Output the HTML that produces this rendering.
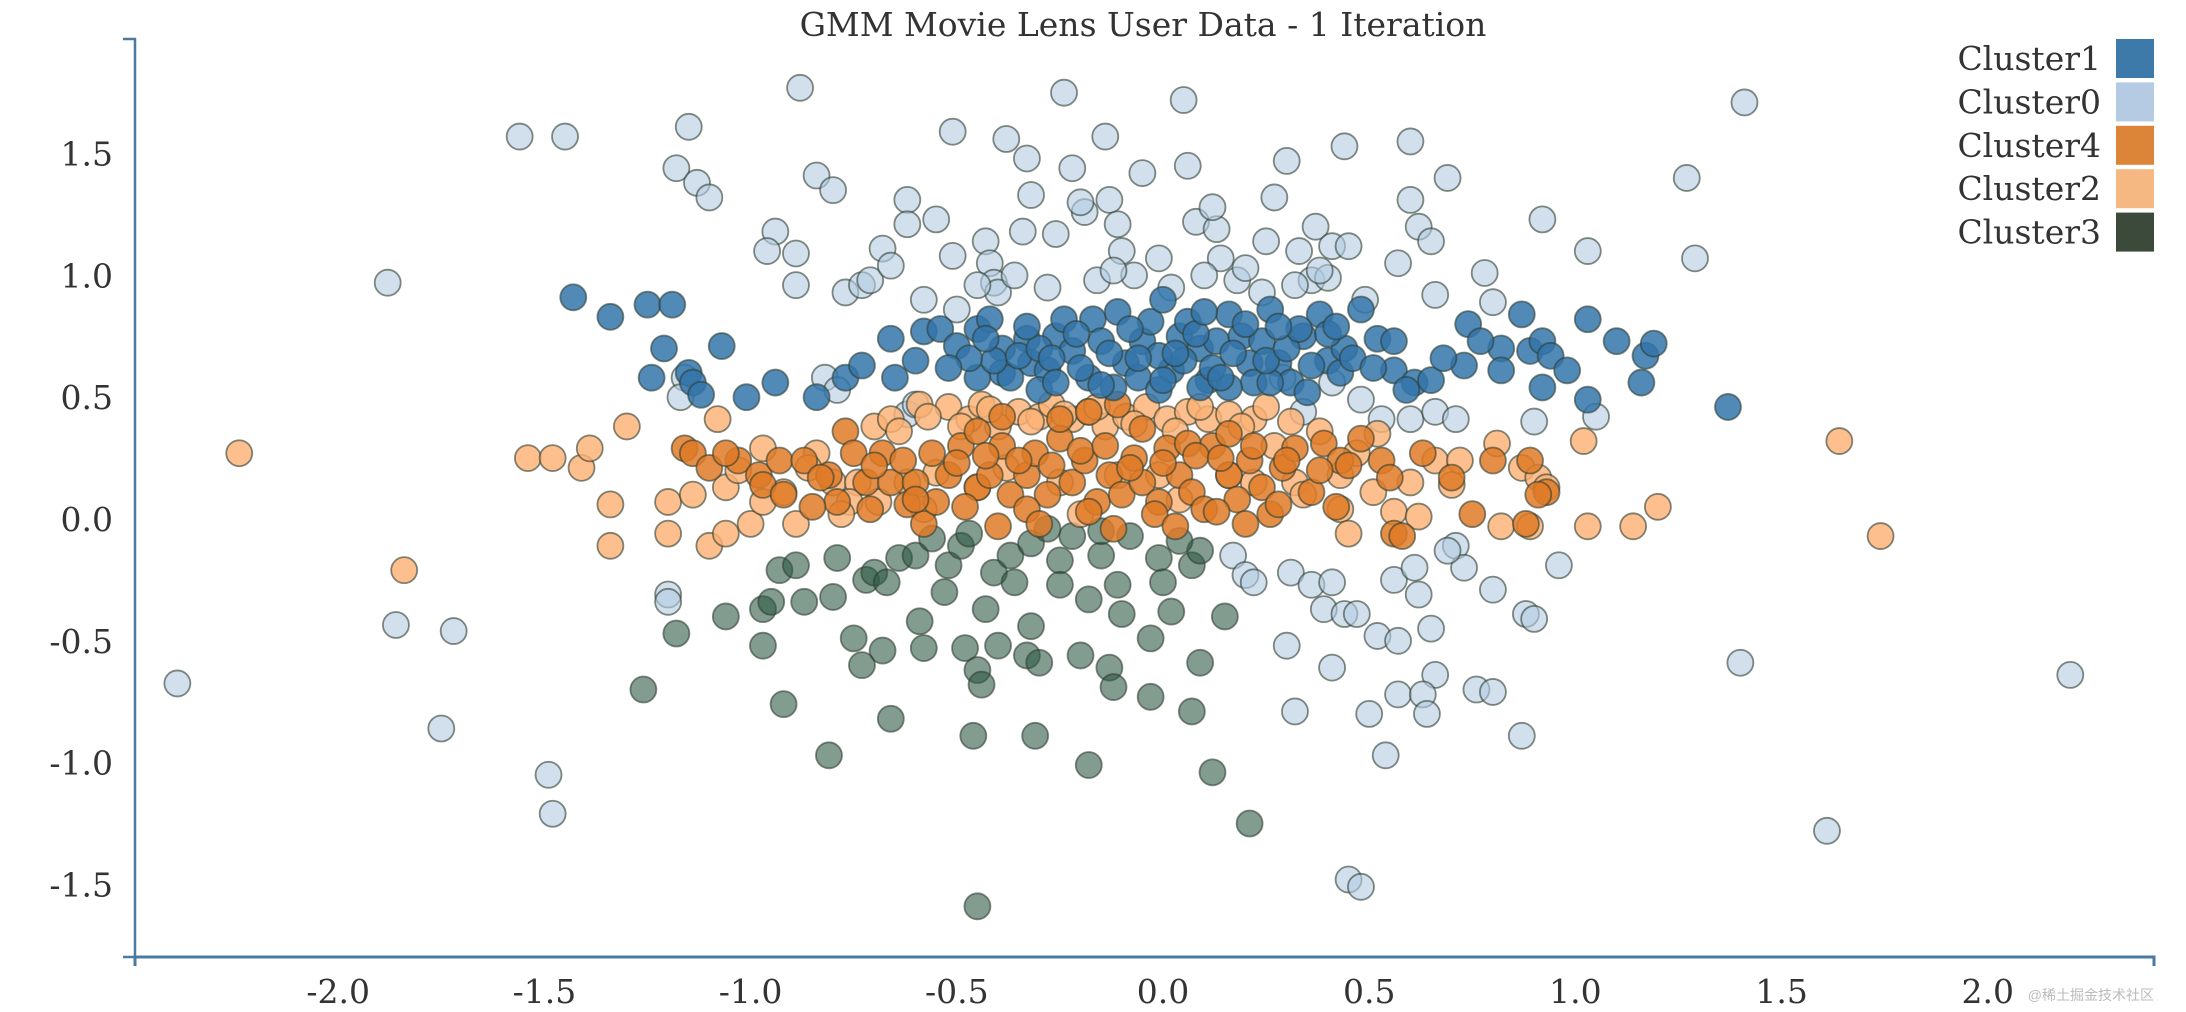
<!DOCTYPE html>
<html><head><meta charset="utf-8">
<style>
html,body{margin:0;padding:0;background:#fff;}
svg{display:block;}
text{font-family:"DejaVu Serif","Liberation Serif",serif;fill:#333;}
</style></head>
<body>
<svg id="chart" width="2186" height="1012">
<text x="1143" y="36" text-anchor="middle" font-size="33">GMM Movie Lens User Data - 1 Iteration</text>
<g id="points"></g>
<path d="M123,39 H135 V957 H123" fill="none" stroke="#4a7aa0" stroke-width="2.5"/>
<path d="M135,966 V957 H2154 V966" fill="none" stroke="#4a7aa0" stroke-width="3"/>
<g id="yticks"></g>
<g id="xticks"></g>
<g id="legend"></g>
<text x="2154" y="1000" text-anchor="end" font-size="14" style="font-family:'Liberation Sans','Noto Sans CJK SC',sans-serif;fill:#bbb">@稀土掘金技术社区</text>
</svg>
<script>
const xTicks=[-2.0,-1.5,-1.0,-0.5,0.0,0.5,1.0,1.5,2.0];
const yTicks=[-1.5,-1.0,-0.5,0.0,0.5,1.0,1.5];
const clusterNames=["Cluster1","Cluster0","Cluster4","Cluster2","Cluster3"];
const cluster0X=[-2.39,-1.88,-1.86,-1.75,-1.72,-1.56,-1.49,-1.48,-1.45,-1.20,-1.20,-1.15,-1.18,-1.13,-1.10,-0.94,-0.96,-0.89,-0.89,-0.88,-0.84,-0.80,-0.77,-0.73,-0.71,-0.68,-0.66,-0.62,-0.62,-0.55,-0.51,-0.51,-0.58,-0.50,-0.38,-0.33,-0.43,-0.42,-0.41,-0.34,-0.32,-0.24,-0.22,-0.26,-0.19,-0.14,-0.13,-0.11,-0.10,-0.05,-0.07,-0.01,0.05,0.06,0.08,0.13,0.14,0.18,0.25,0.27,0.30,0.33,0.36,0.37,0.41,0.44,0.45,0.49,0.57,0.60,0.60,0.62,0.65,0.66,0.69,0.78,0.80,0.92,1.03,1.27,1.29,1.41,1.40,1.61,2.20,0.45,0.48,0.54,0.57,0.50,0.41,0.32,0.30,0.31,0.36,0.39,0.44,0.41,0.47,0.52,0.57,0.56,0.61,0.62,0.65,0.66,0.63,0.64,0.71,0.73,0.76,0.80,0.80,0.87,0.88,0.90,0.96,0.69,0.17,0.20,0.22,0.48,0.53,0.60,0.66,0.71,0.90,1.05,0.29,0.34,0.41,-1.16,-1.17,-0.82,-0.79,-0.62,-0.60,-0.40,-0.36,-0.28,-0.16,-0.12,0.02,0.10,0.20,0.24,0.32,0.40,-0.45,-0.20,0.12,0.38];
const cluster0Y=[-0.675,0.97,-0.435,-0.86,-0.46,1.57,-1.05,-1.21,1.57,-0.31,-0.34,1.61,1.44,1.38,1.32,1.18,1.10,1.09,0.96,1.77,1.41,1.35,0.93,0.96,0.98,1.11,1.04,1.31,1.21,1.23,1.59,1.08,0.90,0.86,1.56,1.48,1.14,1.05,0.97,1.18,1.33,1.75,1.44,1.17,1.26,1.57,1.31,1.21,1.10,1.42,1.00,1.07,1.72,1.45,1.22,1.19,1.07,0.98,1.14,1.32,1.47,1.10,0.98,1.20,1.12,1.53,1.12,0.90,1.05,1.55,1.31,1.20,1.14,0.92,1.40,1.01,0.89,1.23,1.10,1.40,1.07,1.71,-0.59,-1.28,-0.64,-1.48,-1.51,-0.97,-0.72,-0.80,-0.61,-0.79,-0.52,-0.22,-0.27,-0.37,-0.39,-0.26,-0.39,-0.48,-0.50,-0.25,-0.20,-0.31,-0.45,-0.64,-0.72,-0.80,-0.11,-0.20,-0.70,-0.29,-0.71,-0.89,-0.39,-0.41,-0.19,-0.13,-0.15,-0.23,-0.26,0.49,0.41,0.41,0.44,0.41,0.40,0.42,0.58,0.44,0.56,0.58,0.50,0.58,0.53,0.43,0.47,0.93,1.00,0.95,0.98,1.02,0.95,1.00,1.03,0.93,0.96,0.99,0.96,1.30,1.28,1.02];
const cluster1X=[-1.43,-1.34,-1.25,-1.19,-1.24,-1.21,-1.15,-1.14,-1.12,-1.07,-1.01,-0.94,-0.84,-0.77,-0.73,-0.66,-0.65,-0.60,-0.58,-0.54,-0.50,-0.45,-0.42,-0.39,-0.39,-0.33,-0.32,-0.28,-0.26,-0.24,-0.22,-0.18,-0.17,-0.15,-0.11,-0.09,-0.06,-0.05,-0.03,0.00,0.02,0.04,0.06,0.09,0.11,0.13,0.16,0.19,0.21,0.22,0.24,0.26,0.28,0.31,0.34,0.38,0.40,0.43,0.44,0.48,0.52,0.56,0.61,0.65,0.73,0.74,0.82,0.82,0.87,0.89,0.92,0.92,0.94,0.98,1.03,1.03,1.10,1.16,1.17,1.19,1.37,-0.37,-0.45,-0.30,-0.12,-0.01,0.09,0.16,0.26,-0.41,0.05,0.36,0.56,0.77,-0.47,-0.43,-0.35,-0.30,-0.27,-0.20,-0.13,-0.08,-0.01,0.03,0.08,0.12,0.17,0.20,0.25,0.30,0.33,0.40,0.46,0.51,-0.33,-0.21,-0.06,0.10,0.28,0.42,-0.52,-0.26,-0.15,0.00,0.14,0.35,0.59,0.68];
const cluster1Y=[0.91,0.83,0.88,0.88,0.58,0.70,0.60,0.56,0.51,0.71,0.50,0.56,0.50,0.58,0.63,0.74,0.58,0.65,0.77,0.78,0.71,0.78,0.82,0.70,0.60,0.74,0.64,0.61,0.75,0.82,0.69,0.58,0.82,0.73,0.85,0.64,0.58,0.73,0.81,0.90,0.61,0.75,0.81,0.70,0.57,0.73,0.84,0.75,0.64,0.56,0.73,0.86,0.64,0.56,0.75,0.84,0.65,0.60,0.70,0.86,0.74,0.61,0.56,0.57,0.63,0.80,0.70,0.61,0.84,0.69,0.73,0.54,0.67,0.61,0.82,0.49,0.73,0.56,0.67,0.72,0.46,0.58,0.58,0.53,0.54,0.53,0.54,0.54,0.56,0.65,0.65,0.63,0.73,0.73,0.66,0.74,0.67,0.70,0.66,0.62,0.68,0.78,0.67,0.68,0.76,0.62,0.68,0.80,0.65,0.70,0.78,0.76,0.66,0.62,0.79,0.76,0.66,0.85,0.79,0.79,0.62,0.56,0.55,0.57,0.58,0.52,0.53,0.66];
const cluster2X=[-2.24,-1.84,-1.54,-1.48,-1.41,-1.39,-1.34,-1.30,-1.34,-1.20,-1.20,-1.14,-1.10,-1.08,-1.06,-1.06,-1.00,-0.97,-0.97,-0.92,-0.89,-0.84,-0.80,-0.74,-0.70,-0.69,-0.66,-0.62,-0.59,-0.55,-0.52,-0.47,-0.44,-0.40,-0.35,-0.30,-0.27,-0.22,-0.18,-0.14,-0.09,-0.04,0.01,0.06,0.11,0.16,0.22,0.27,-0.25,-0.11,0.16,0.22,0.32,0.43,0.43,0.45,0.51,0.56,0.60,0.62,0.66,0.70,0.72,0.81,0.82,0.87,0.89,0.91,0.93,1.02,1.03,1.14,1.20,1.64,1.74,-0.76,-0.45,-0.38,-0.01,0.04,0.34,-0.64,-0.57,-0.49,-0.42,-0.32,-0.24,-0.16,-0.07,0.03,0.09,0.19,0.25,0.31,0.38,-0.86,-0.78,-1.03,-0.58,-0.20,0.47,0.52];
const cluster2Y=[0.27,-0.21,0.25,0.25,0.21,0.29,0.06,0.38,-0.11,0.07,-0.06,0.10,-0.11,0.41,0.13,-0.06,-0.02,0.29,0.07,0.11,-0.02,0.27,0.15,0.15,0.38,0.07,0.41,0.15,0.47,0.19,0.46,0.41,0.47,0.38,0.44,0.42,0.47,0.41,0.44,0.38,0.42,0.46,0.41,0.44,0.41,0.43,0.41,0.30,0.15,0.18,0.18,0.15,0.15,0.18,0.04,-0.06,0.11,0.03,0.15,0.01,0.24,0.14,0.24,0.31,-0.03,0.21,-0.03,0.17,0.13,0.32,-0.03,-0.03,0.05,0.32,-0.07,0.07,0.13,0.21,0.18,0.08,0.10,0.36,0.42,0.38,0.45,0.40,0.43,0.46,0.39,0.36,0.46,0.38,0.46,0.40,0.36,0.21,0.02,0.20,0.04,0.02,0.27,0.35];
const cluster4X=[-1.16,-1.14,-1.10,-1.03,-0.98,-0.93,-0.87,-0.81,-0.77,-0.75,-0.72,-0.71,-0.68,-0.66,-0.62,-0.60,-0.58,-0.55,-0.52,-0.49,-0.45,-0.42,-0.39,-0.37,-0.33,-0.31,-0.28,-0.25,-0.22,-0.19,-0.16,-0.13,-0.10,-0.07,-0.05,-0.01,0.01,0.04,0.07,0.10,0.12,0.16,0.18,0.21,0.24,0.26,0.29,0.32,0.36,0.39,0.43,0.48,0.53,0.56,0.58,0.63,0.80,0.89,0.93,0.91,0.88,-0.18,-0.11,-0.05,0.06,-0.39,-0.45,-0.25,0.16,-0.79,-0.83,-0.97,-1.06,-0.70,-0.63,-0.56,-0.50,-0.43,-0.35,-0.27,-0.20,-0.14,-0.08,0.00,0.08,0.14,0.22,0.30,0.38,0.45,-0.60,-0.48,-0.33,-0.18,-0.02,0.13,0.28,0.42,0.55,0.70,0.75,-0.85,-0.92,-0.40,-0.30,-0.12,0.03,0.20];
const cluster4Y=[0.29,0.27,0.21,0.24,0.18,0.24,0.24,0.18,0.36,0.27,0.15,0.04,0.27,0.15,0.06,0.15,-0.02,0.07,0.18,0.30,0.13,0.18,0.30,0.10,0.18,0.27,0.10,0.33,0.15,0.24,0.07,0.18,0.10,0.25,0.15,0.07,0.29,0.18,0.11,0.04,0.30,0.18,0.08,0.24,0.13,0.02,0.21,0.29,0.11,0.31,0.24,0.33,0.24,-0.06,-0.07,0.27,0.24,0.24,0.11,0.10,-0.02,0.44,0.47,0.37,0.31,0.42,0.36,0.41,0.35,0.07,0.17,0.14,0.27,0.22,0.24,0.27,0.23,0.26,0.24,0.22,0.28,0.30,0.21,0.23,0.26,0.25,0.30,0.24,0.20,0.22,0.08,0.05,0.04,0.03,0.02,0.03,0.06,0.05,0.17,0.17,0.02,0.05,0.10,-0.03,-0.02,-0.04,-0.03,-0.02];
const cluster3X=[-1.26,-1.18,-1.06,-0.97,-0.97,-0.95,-0.93,-0.92,-0.89,-0.87,-0.81,-0.80,-0.79,-0.75,-0.73,-0.72,-0.70,-0.68,-0.67,-0.66,-0.64,-0.60,-0.59,-0.58,-0.53,-0.52,-0.49,-0.48,-0.46,-0.45,-0.45,-0.44,-0.43,-0.41,-0.40,-0.37,-0.36,-0.33,-0.32,-0.31,-0.30,-0.25,-0.25,-0.20,-0.18,-0.18,-0.15,-0.13,-0.12,-0.10,-0.11,-0.03,-0.03,-0.01,0.00,0.02,0.07,0.07,0.09,0.12,0.15,0.21,-0.15,-0.08,-0.22,-0.32,0.09,-0.56,-0.47,-0.28,0.04];
const cluster3Y=[-0.70,-0.47,-0.40,-0.37,-0.52,-0.34,-0.21,-0.76,-0.19,-0.34,-0.97,-0.32,-0.16,-0.49,-0.60,-0.25,-0.22,-0.54,-0.26,-0.82,-0.16,-0.15,-0.42,-0.53,-0.30,-0.19,-0.11,-0.53,-0.89,-1.59,-0.62,-0.68,-0.37,-0.22,-0.52,-0.15,-0.26,-0.56,-0.44,-0.89,-0.59,-0.17,-0.27,-0.56,-1.01,-0.33,-0.15,-0.61,-0.69,-0.39,-0.27,-0.49,-0.73,-0.16,-0.26,-0.38,-0.19,-0.79,-0.59,-1.04,-0.40,-1.25,-0.05,-0.07,-0.07,-0.10,-0.13,-0.08,-0.06,-0.04,-0.09];

const NS="http://www.w3.org/2000/svg";
function xs(v){return 1163+412.4*v;}
function ys(v){return 519-243.6*v;}
const styles={
 Cluster0:{fill:"#b4cbe3",op:0.6,legend:"#b4cbe3"},
 Cluster1:{fill:"#3274aa",op:0.85,legend:"#3d79a9"},
 Cluster4:{fill:"#df7a27",op:0.85,legend:"#dc8437"},
 Cluster2:{fill:"#fbb174",op:0.82,legend:"#f6b883"},
 Cluster3:{fill:"#2f5a45",op:0.6,legend:"#3c4a3c"}
};
const layer=document.getElementById("points");
function draw(name,X,Y){
 const g=document.createElementNS(NS,"g");
 
 
 for(let i=0;i<X.length;i++){
  const c=document.createElementNS(NS,"circle");
  
  
  c.setAttribute("cx",xs(X[i]));c.setAttribute("cy",ys(Y[i]));c.setAttribute("r",13);
  c.setAttribute("fill",styles[name].fill);c.setAttribute("fill-opacity",styles[name].op);
  c.setAttribute("stroke","#2f3d30");c.setAttribute("stroke-opacity",0.6);c.setAttribute("stroke-width",1.8);
  g.appendChild(c);
 }
 layer.appendChild(g);
}
draw("Cluster0",cluster0X,cluster0Y);
draw("Cluster3",cluster3X,cluster3Y);
draw("Cluster2",cluster2X,cluster2Y);
draw("Cluster4",cluster4X,cluster4Y);
draw("Cluster1",cluster1X,cluster1Y);

const yg=document.getElementById("yticks");
yTicks.forEach(v=>{
 const t=document.createElementNS(NS,"text");
 
 
 t.setAttribute("x",113);t.setAttribute("y",ys(v)+12);t.setAttribute("text-anchor","end");t.setAttribute("font-size","33");
 t.textContent=v.toFixed(1);yg.appendChild(t);
});
const xg=document.getElementById("xticks");
xTicks.forEach(v=>{
 const t=document.createElementNS(NS,"text");
 
 
 t.setAttribute("x",xs(v));t.setAttribute("y",1003);t.setAttribute("text-anchor","middle");t.setAttribute("font-size","33");
 t.textContent=v.toFixed(1);xg.appendChild(t);
});
const lg=document.getElementById("legend");
clusterNames.forEach((n,i)=>{
 const y=39+i*43.4;
 const r=document.createElementNS(NS,"rect");
 
 
 r.setAttribute("x",2116);r.setAttribute("y",y);r.setAttribute("width",38);r.setAttribute("height",39);r.setAttribute("fill",styles[n].legend);
 lg.appendChild(r);
 const t=document.createElementNS(NS,"text");
 
 
 t.setAttribute("x",2101);t.setAttribute("y",y+31);t.setAttribute("text-anchor","end");t.setAttribute("font-size","33");
 t.textContent=n;lg.appendChild(t);
});
</script>
</body></html>
